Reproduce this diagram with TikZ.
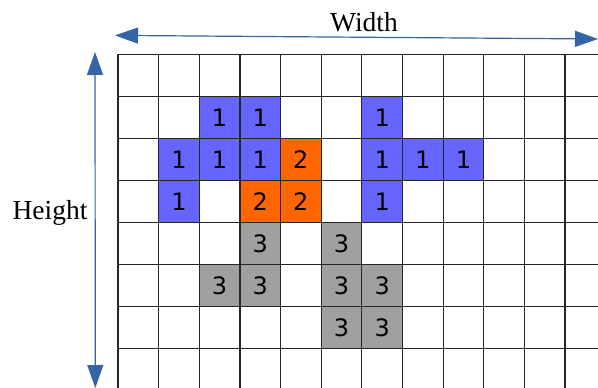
\documentclass[tikz,border=0pt]{standalone}
\usepackage{fontspec}
\setmainfont{Liberation Serif}
\newfontfamily\digitfont{DejaVu Sans}
\usetikzlibrary{arrows.meta}
\definecolor{cellblue}{HTML}{6666FF}
\definecolor{cellorange}{HTML}{FF6600}
\definecolor{cellgray}{HTML}{A0A0A0}
\definecolor{arrowblue}{HTML}{3465A4}
\tikzset{
  gridline/.style={line width=1.2pt, draw=black!85},
  dimarrow/.style={draw=arrowblue, line width=1.2pt, {Triangle[length=23pt,width=16pt]}-{Triangle[length=23pt,width=16pt]}},
  celltext/.style={font=\digitfont\fontsize{24}{24}\selectfont, inner sep=0pt, anchor=center},
  dimlabel/.style={font=\fontsize{27.5}{27.5}\selectfont, inner sep=0pt},
}
\begin{document}
\begin{tikzpicture}[x=1pt,y=-1pt]
\useasboundingbox (0,0) rectangle (598,388);
\def\cw{40.64}
\def\rh{42.06}
\def\gx{118}
\def\gy{54.3}
\begin{scope}
\clip (0,0) rectangle (598,388);
% coloured cells
\foreach \c/\r/\v/\col in {2/1/1/cellblue,3/1/1/cellblue,6/1/1/cellblue,
  1/2/1/cellblue,2/2/1/cellblue,3/2/1/cellblue,4/2/2/cellorange,6/2/1/cellblue,7/2/1/cellblue,8/2/1/cellblue,
  1/3/1/cellblue,3/3/2/cellorange,4/3/2/cellorange,6/3/1/cellblue,
  3/4/3/cellgray,5/4/3/cellgray,
  2/5/3/cellgray,3/5/3/cellgray,5/5/3/cellgray,6/5/3/cellgray,
  5/6/3/cellgray,6/6/3/cellgray}{
  \fill[\col] ({\gx+\c*\cw},{\gy+\r*\rh}) rectangle ({\gx+(\c+1)*\cw},{\gy+(\r+1)*\rh});
  \node[celltext] (cell-\c-\r) at ({\gx+(\c+0.5)*\cw},{\gy+(\r+0.5)*\rh}) {\v};
}
% grid
\foreach \i in {0,...,12}{
  \draw[gridline] ({\gx+\i*\cw},\gy) -- ({\gx+\i*\cw},400);
}
\foreach \j in {0,...,8}{
  \draw[gridline] (\gx,{\gy+\j*\rh}) -- (610,{\gy+\j*\rh});
}
\end{scope}
% dimension arrows
\coordinate (wl) at (115,35.4);
\coordinate (wr) at (598,39);
\coordinate (ht) at (95,52);
\coordinate (hb) at (95.3,388);
\draw[dimarrow] (wl) -- (wr);
\draw[dimarrow] (ht) -- (hb);
\node[dimlabel] (width) at (364,22) {Width};
\node[dimlabel] (height) at (50,213) {Height};
\end{tikzpicture}
\end{document}
